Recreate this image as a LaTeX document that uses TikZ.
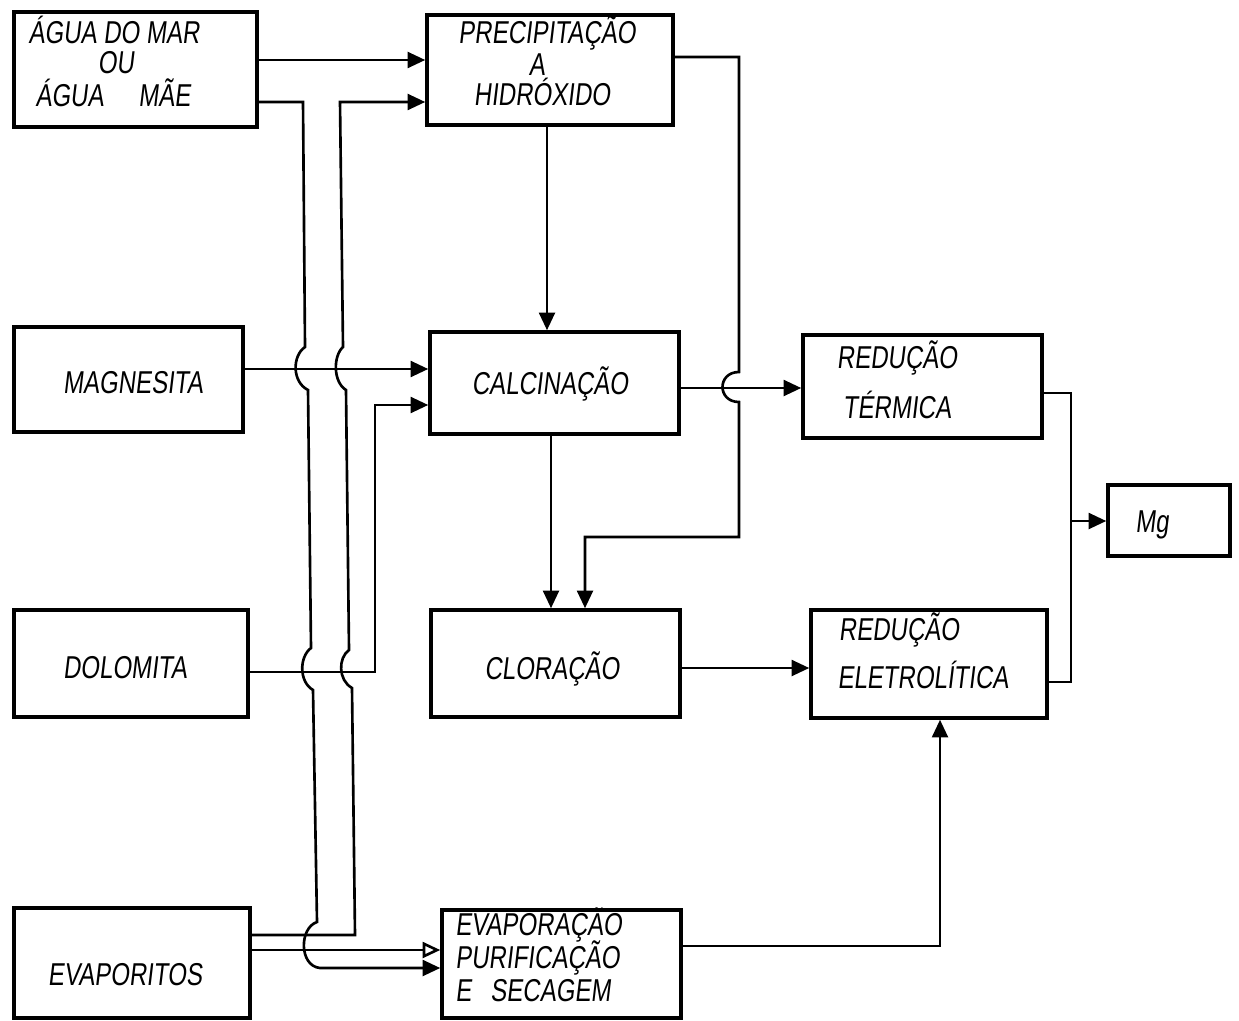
\documentclass[tikz,border=0pt]{standalone}
\usepackage{fontspec}
\newfontfamily\hand[FakeStretch=0.76,FakeSlant=0.12]{Liberation Sans}
\usetikzlibrary{arrows.meta,fit}
\begin{document}
\begin{tikzpicture}[x=0.02cm,y=-0.02cm,
  box/.style={draw, line width=2pt, inner sep=0pt},
  conn/.style={line width=1.5pt},
  arr/.style={conn,-{Triangle[length=10pt,width=9pt]}},
  oarr/.style={conn,-{Triangle[open,length=10pt,width=9pt]}},
  lbl/.style={font=\hand\fontsize{18}{21}\selectfont, inner sep=0pt, anchor=base},
  lblw/.style={lbl, anchor=base west}]
\useasboundingbox (0,0) rectangle (1239,1020);

% boxes
\node[box, fit={(14,12) (257,127)}] (agua) {};
\node[box, fit={(427,15) (673,125)}] (prec) {};
\node[box, fit={(14,327) (243,432)}] (magn) {};
\node[box, fit={(430,332) (679,434)}] (calc) {};
\node[box, fit={(803,335) (1042,438)}] (term) {};
\node[box, fit={(1108,485) (1230,556)}] (mg) {};
\node[box, fit={(14,610) (248,717)}] (dolo) {};
\node[box, fit={(431,610) (680,717)}] (clor) {};
\node[box, fit={(811,610) (1047,718)}] (elet) {};
\node[box, fit={(14,908) (250,1018)}] (evpt) {};
\node[box, fit={(442,910) (681,1018)}] (evap) {};

% labels
\node[lbl] (t1) at (114,44) {ÁGUA DO MAR};
\node[lbl] (t2) at (116,74) {OU};
\node[lbl] (t3) at (113,107) {ÁGUA\hspace{1.1em}MÃE};
\node[lbl] (t4) at (547,44) {PRECIPITAÇÃO};
\node[lbl] (t5) at (537,76) {A};
\node[lbl] (t6) at (542,106) {HIDRÓXIDO};
\node[lbl] (t7) at (133,393) {MAGNESITA};
\node[lbl] (t8) at (550,394) {CALCINAÇÃO};
\node[lbl] (t9) at (897,368) {REDUÇÃO};
\node[lbl] (t10) at (897,418) {TÉRMICA};
\node[lbl] (t11) at (1152,532) {Mg};
\node[lbl] (t12) at (125,678) {DOLOMITA};
\node[lbl] (t13) at (552,679) {CLORAÇÃO};
\node[lbl] (t14) at (899,640) {REDUÇÃO};
\node[lbl] (t15) at (923,688) {ELETROLÍTICA};
\node[lbl] (t16) at (125,985) {EVAPORITOS};
\node[lblw] (t17) at (455,935) {EVAPORAÇÃO};
\node[lblw] (t18) at (455,968) {PURIFICAÇÃO};
\node[lblw] (t19) at (455,1001) {E\hspace{0.6em}SECAGEM};

\coordinate (join) at (1071,521);

% connectors
\draw[arr] (agua.east |- 0,60) -- (prec.west |- 0,60);
% line A: agua -> evaporacao (lower)
\draw[arr] (agua.east |- 0,102) -- (303,102) -- (305,347)
  .. controls (292,356) and (292,382) .. (308,390) -- (311,648)
  .. controls (299,657) and (299,682) .. (313,690) -- (317,922)
  .. controls (299,928) and (299,966) .. (320,968) -- (evap.west |- 0,968);
% line B: evaporitos -> precipitacao
\draw[arr] (evpt.east |- 0,935) -- (355,935) -- (352,688)
  .. controls (338,680) and (338,658) .. (349,650) -- (346,390)
  .. controls (333,382) and (333,356) .. (343,347) -- (340,102)
  -- (prec.west |- 0,102);
\draw[oarr] (evpt.east |- 0,950) -- (evap.west |- 0,950);
\draw[arr] (magn.east |- 0,369) -- (calc.west |- 0,369);
\draw[arr] (dolo.east |- 0,672) -- (375,672) -- (375,405) -- (calc.west |- 0,405);
\draw[arr] (547,0 |- prec.south) -- (547,0 |- calc.north);
\draw[arr] (551,0 |- calc.south) -- (551,0 |- clor.north);
\draw[arr] (prec.east |- 0,57) -- (739,57) -- (739,372)
  .. controls (717,372) and (717,402) .. (739,402) -- (739,537) -- (585,537)
  -- (585,0 |- clor.north);
\draw[arr] (calc.east |- 0,388) -- (term.west |- 0,388);
\draw[arr] (clor.east |- 0,668) -- (elet.west |- 0,668);
\draw[arr] (evap.east |- 0,946) -- (940,946) -- (940,0 |- elet.south);
\draw[conn] (term.east |- 0,393) -- (1071,393) -- (1071,682) -- (elet.east |- 0,682);
\draw[arr] (join) -- (mg.west |- join);
\end{tikzpicture}
\end{document}
